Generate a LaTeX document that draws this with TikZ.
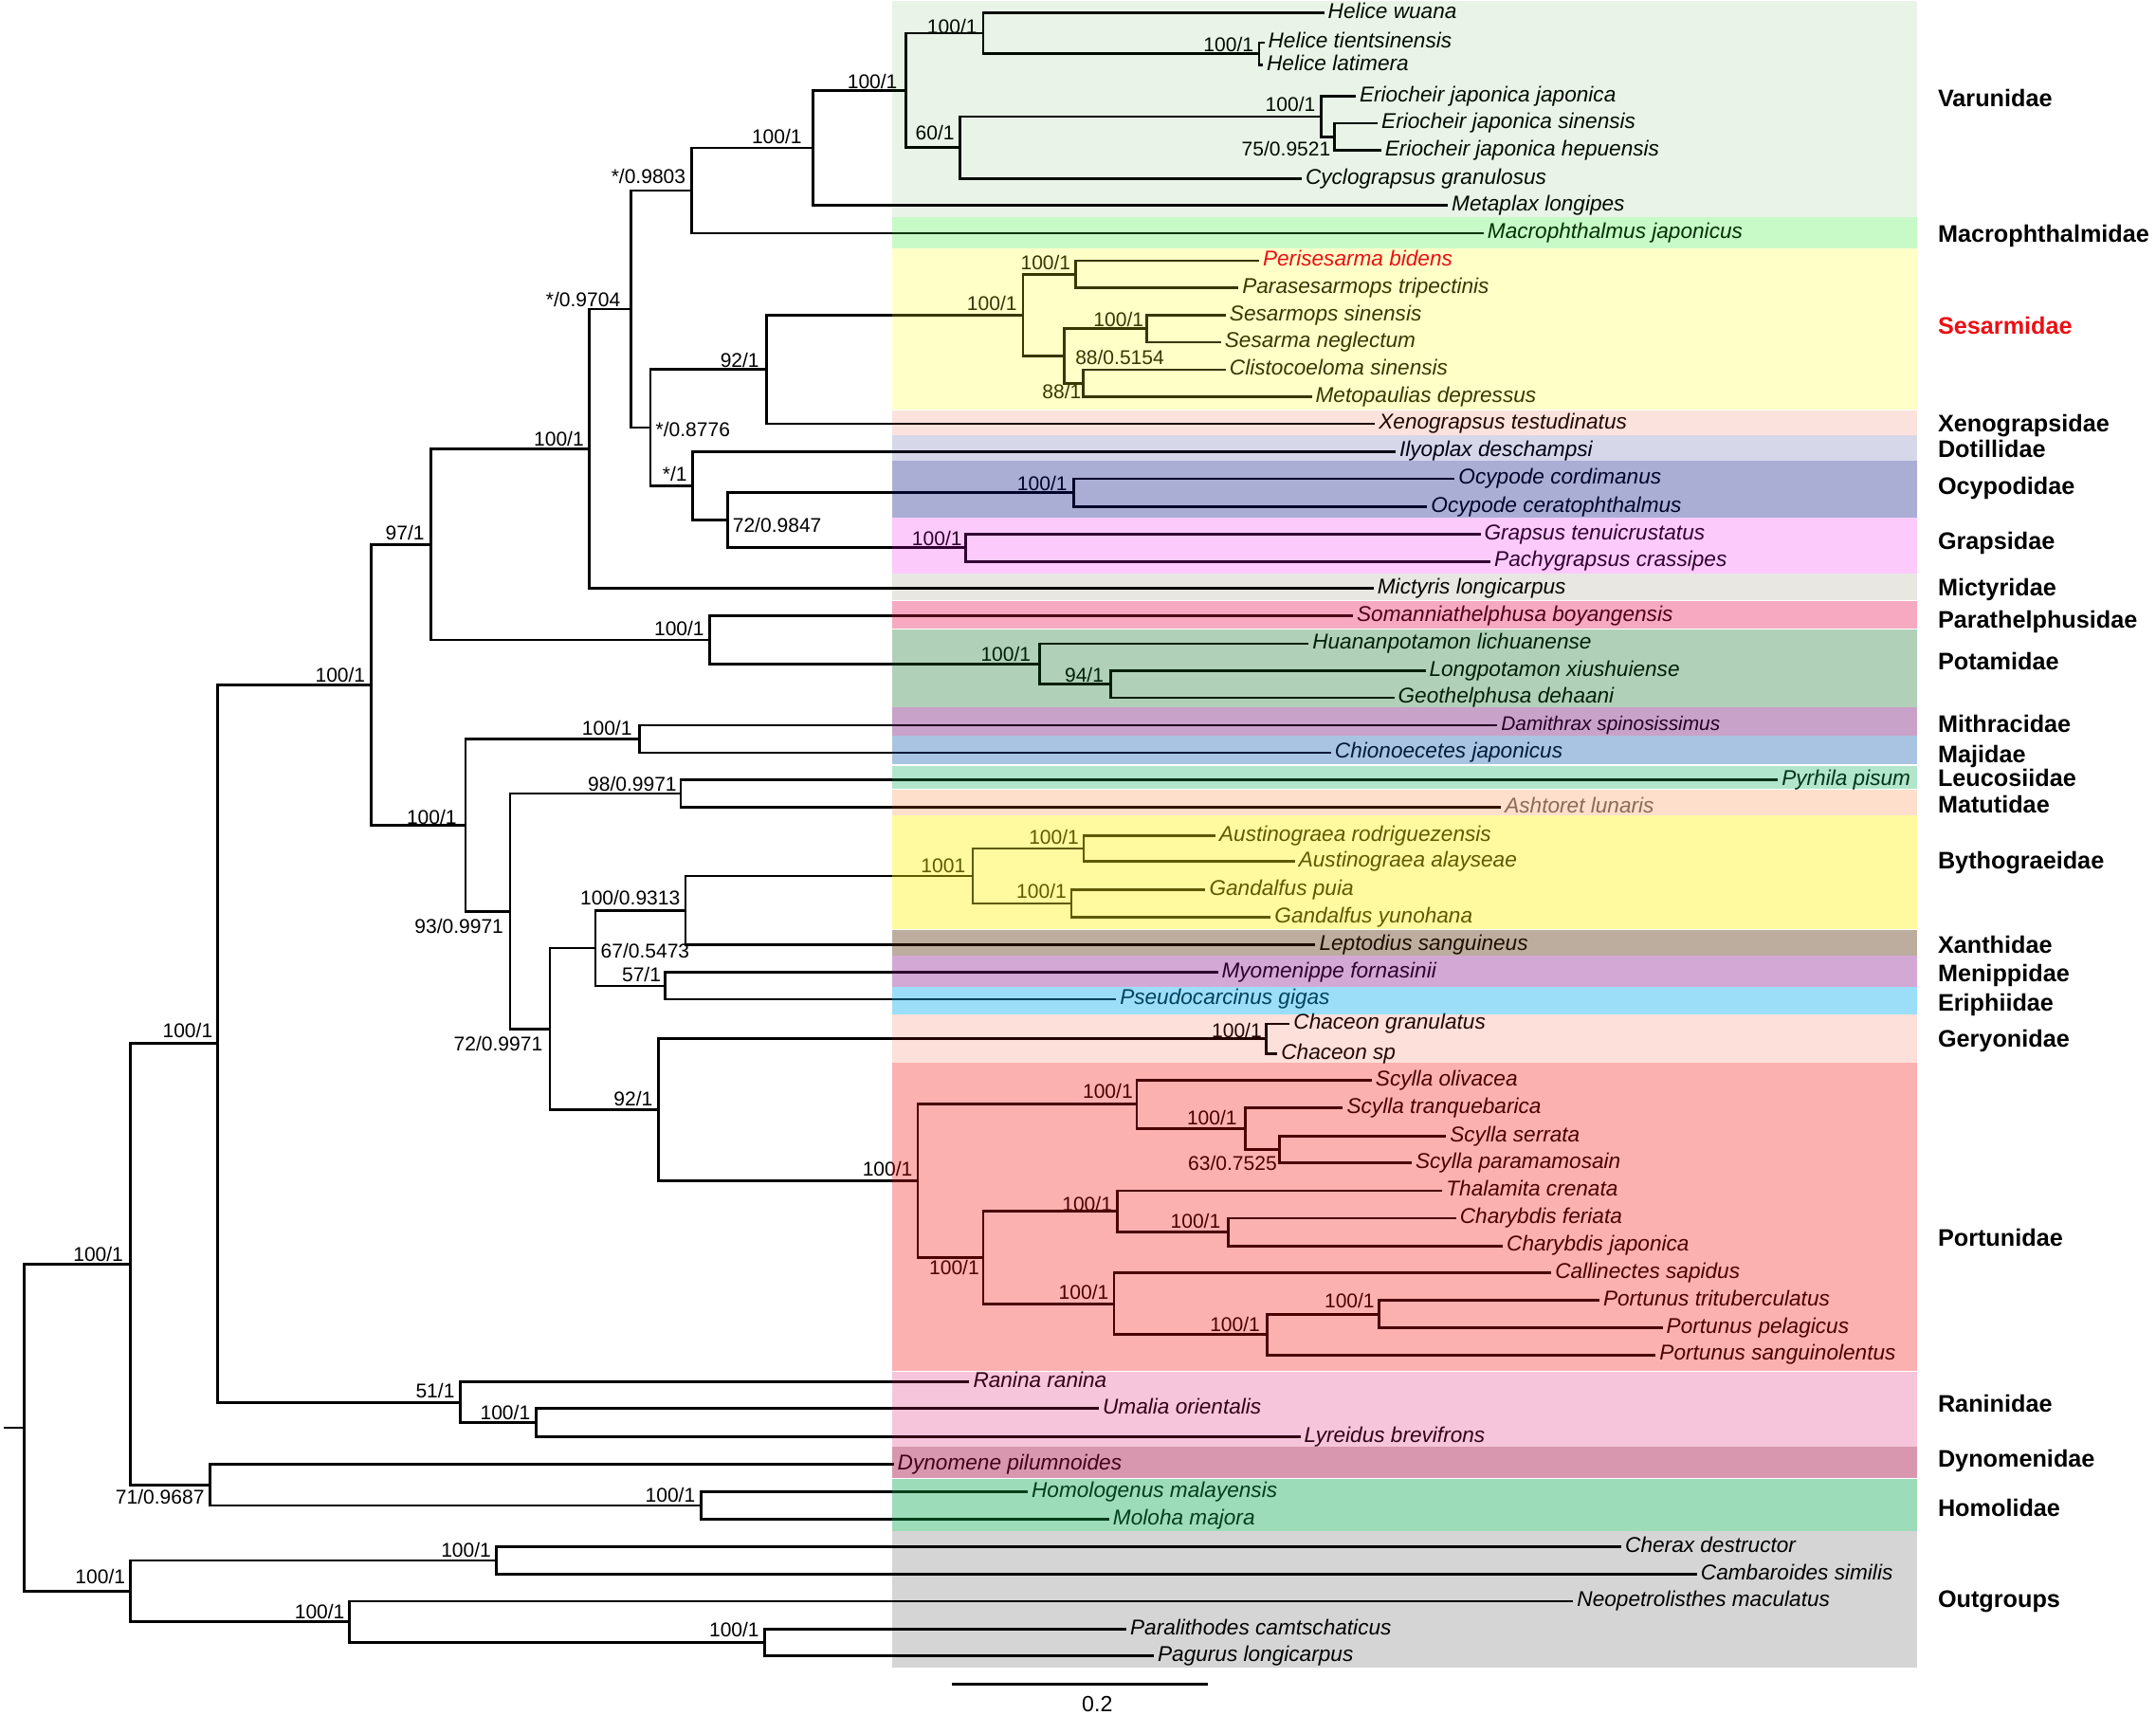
\documentclass[tikz,border=0pt]{standalone}
\usepackage{fontspec}
\setmainfont{Liberation Sans}
\definecolor{cVar}{RGB}{11,122,0}
\definecolor{cMac}{RGB}{0,232,0}
\definecolor{cSes}{RGB}{255,255,0}
\definecolor{cXen}{RGB}{233,44,0}
\definecolor{cDot}{RGB}{0,12,124}
\definecolor{cOcy}{RGB}{0,12,126}
\definecolor{cGra}{RGB}{240,0,240}
\definecolor{cMic}{RGB}{61,44,0}
\definecolor{cPar}{RGB}{228,0,71}
\definecolor{cPot}{RGB}{0,103,26}
\definecolor{cMit}{RGB}{104,0,104}
\definecolor{cMaj}{RGB}{0,82,170}
\definecolor{cLeu}{RGB}{0,172,86}
\definecolor{cMat}{RGB}{245,95,0}
\definecolor{cByt}{RGB}{255,239,0}
\definecolor{cXan}{RGB}{77,37,0}
\definecolor{cMen}{RGB}{129,0,129}
\definecolor{cEri}{RGB}{0,170,237}
\definecolor{cGer}{RGB}{241,41,0}
\definecolor{cPor}{RGB}{245,0,0}
\definecolor{cRan}{RGB}{220,0,97}
\definecolor{cDyn}{RGB}{159,0,59}
\definecolor{cHom}{RGB}{0,164,70}
\definecolor{cOut}{RGB}{0,0,0}
\definecolor{redtxt}{RGB}{235,15,20}
\definecolor{graytxt}{RGB}{110,110,110}
\pgfdeclarelayer{front}
\pgfsetlayers{main,front}
\begin{document}
\begin{tikzpicture}[x=0.5pt,y=-0.5pt,
  br/.style={line width=0.95pt},
  tip/.style={anchor=west,inner xsep=1.2pt,inner ysep=0pt,text height=5.6pt,text depth=1.65pt,font=\fontsize{7.8}{9}\selectfont\itshape},
  smalltip/.style={tip,text height=5.2pt,text depth=1.5pt,font=\fontsize{7.2}{8}\selectfont\itshape},
  bs/.style={inner sep=0pt,text height=5.2pt,text depth=0pt,font=\fontsize{7.25}{8}\selectfont},
  bsl/.style={bs,anchor=east},
  bsr/.style={bs,anchor=west},
  fam/.style={anchor=west,inner sep=0pt,text height=6.25pt,text depth=0pt,font=\fontsize{8.7}{10}\selectfont\bfseries},
]
\useasboundingbox (0,0) rectangle (1568,1247);

% ---------- tips ----------
\node[tip] (t1) at (963,9.2) {Helice wuana};
\node[tip] (t2) at (919.5,31) {Helice tientsinensis};
\node[tip] (t3) at (918.5,47.1) {Helice latimera};
\node[tip] (t4) at (986,70.1) {Eriocheir japonica japonica};
\node[tip] (t5) at (1002,89.6) {Eriocheir japonica sinensis};
\node[tip] (t6) at (1004.5,109.2) {Eriocheir japonica hepuensis};
\node[tip] (t7) at (946.7,129.9) {Cyclograpsus granulosus};
\node[tip] (t8) at (1053,149.4) {Metaplax longipes};
\node[tip] (t9) at (1079,169.6) {Macrophthalmus japonicus};
\begin{pgfonlayer}{front}
\node[tip,text=redtxt] (t10) at (915.7,189.6) {Perisesarma bidens};
\end{pgfonlayer}
\node[tip] (t11) at (900.7,209.2) {Parasesarmops tripectinis};
\node[tip] (t12) at (891.5,229.2) {Sesarmops sinensis};
\node[tip] (t13) at (888,249) {Sesarma neglectum};
\node[tip] (t14) at (891.5,269) {Clistocoeloma sinensis};
\node[tip] (t15) at (954,288.5) {Metopaulias depressus};
\node[tip] (t16) at (1000,308.3) {Xenograpsus testudinatus};
\node[tip] (t17) at (1015,328.4) {Ilyoplax deschampsi};
\node[tip] (t18) at (1058,348.2) {Ocypode cordimanus};
\node[tip] (t19) at (1038,368.5) {Ocypode ceratophthalmus};
\node[tip] (t20) at (1076.7,388.5) {Grapsus tenuicrustatus};
\node[tip] (t21) at (1084,408.3) {Pachygrapsus crassipes};
\node[tip] (t22) at (999,427.9) {Mictyris longicarpus};
\node[tip] (t23) at (984,447.9) {Somanniathelphusa boyangensis};
\node[tip] (t24) at (951.7,468.2) {Huananpotamon lichuanense};
\node[tip] (t25) at (1036.7,487.7) {Longpotamon xiushuiense};
\node[tip] (t26) at (1014,507.5) {Geothelphusa dehaani};
\node[smalltip] (t27) at (1089,527.5) {Damithrax spinosissimus};
\node[tip] (t28) at (968,547.5) {Chionoecetes japonicus};
\node[tip] (t29) at (1293,567.2) {Pyrhila pisum};
\node[tip,text=graytxt] (t30) at (1091.7,587.2) {Ashtoret lunaris};
\node[tip] (t31) at (884,607.9) {Austinograea rodriguezensis};
\node[tip] (t32) at (941.7,626.3) {Austinograea alayseae};
\node[tip] (t33) at (876.7,647) {Gandalfus puia};
\node[tip] (t34) at (924.2,667.3) {Gandalfus yunohana};
\node[tip] (t35) at (956.7,687.3) {Leptodius sanguineus};
\node[tip] (t36) at (885.7,707.3) {Myomenippe fornasinii};
\node[tip] (t37) at (811.7,726.8) {Pseudocarcinus gigas};
\node[tip] (t38) at (938,744.7) {Chaceon granulatus};
\node[tip] (t39) at (929,766.5) {Chaceon sp};
\node[tip] (t40) at (997.7,785.6) {Scylla olivacea};
\node[tip] (t41) at (976.7,805.6) {Scylla tranquebarica};
\node[tip] (t42) at (1051.7,826.3) {Scylla serrata};
\node[tip] (t43) at (1026.7,845.8) {Scylla paramamosain};
\node[tip] (t44) at (1049,866) {Thalamita crenata};
\node[tip] (t45) at (1059,886) {Charybdis feriata};
\node[tip] (t46) at (1093,906.2) {Charybdis japonica};
\node[tip] (t47) at (1128.2,925.8) {Callinectes sapidus};
\node[tip] (t48) at (1163.2,945.8) {Portunus trituberculatus};
\node[tip] (t49) at (1209.2,965.8) {Portunus pelagicus};
\node[tip] (t50) at (1204.2,985.5) {Portunus sanguinolentus};
\node[tip] (t51) at (705,1005.1) {Ranina ranina};
\node[tip] (t52) at (799.2,1024.5) {Umalia orientalis};
\node[tip] (t53) at (945.7,1045.1) {Lyreidus brevifrons};
\node[tip] (t54) at (650,1064.9) {Dynomene pilumnoides};
\node[tip] (t55) at (747.5,1084.9) {Homologenus malayensis};
\node[tip] (t56) at (806.7,1105.1) {Moloha majora};
\node[tip] (t57) at (1179.2,1125.1) {Cherax destructor};
\node[tip] (t58) at (1234.2,1144.8) {Cambaroides similis};
\node[tip] (t59) at (1144.2,1164.6) {Neopetrolisthes maculatus};
\node[tip] (t60) at (819.2,1184.8) {Paralithodes camtschaticus};
\node[tip] (t61) at (839.2,1204.4) {Pagurus longicarpus};

% ---------- internal nodes ----------
\coordinate (nA) at (915.7,39.05);
\coordinate (nB) at (715,24.1);
\coordinate (nC) at (970.7,99.4);
\coordinate (nD) at (960.7,84.75);
\coordinate (nE) at (698,107.3);
\coordinate (nF) at (659,65.7);
\coordinate (nG) at (591.5,107.55);
\coordinate (nH) at (503,138.6);
\coordinate (nI) at (782.5,199.4);
\coordinate (nJ) at (834,239.1);
\coordinate (nK) at (788,278.75);
\coordinate (nL) at (774,258.9);
\coordinate (nM) at (744,229.15);
\coordinate (nN) at (557.5,268.7);
\coordinate (nO) at (780.7,358.35);
\coordinate (nP) at (702.5,398.4);
\coordinate (nQ) at (529,378.4);
\coordinate (nR) at (503.5,353.4);
\coordinate (nS) at (473,311.05);
\coordinate (nT) at (459,224.8);
\coordinate (nU) at (428.5,326.35);
\coordinate (nV) at (807.7,497.6);
\coordinate (nW) at (756,482.9);
\coordinate (nX) at (516,465.4);
\coordinate (nY) at (313.5,395.9);
\coordinate (nZ) at (465,537.5);
\coordinate (nAa) at (495,577.2);
\coordinate (nAb) at (788.2,617.1);
\coordinate (nAc) at (779.2,657.15);
\coordinate (nAd) at (707.5,637.1);
\coordinate (nAe) at (498.5,662.2);
\coordinate (nAf) at (483.5,717.05);
\coordinate (nAg) at (433,689.6);
\coordinate (nAh) at (920.7,755.6);
\coordinate (nAi) at (930.7,836.05);
\coordinate (nAj) at (905.7,820.8);
\coordinate (nAk) at (826.7,803.2);
\coordinate (nAl) at (893.2,896.1);
\coordinate (nAm) at (812.7,881.05);
\coordinate (nAn) at (1002.7,955.8);
\coordinate (nAo) at (921.7,970.65);
\coordinate (nAp) at (810.2,948.2);
\coordinate (nAq) at (715,914.6);
\coordinate (nAr) at (667.5,858.9);
\coordinate (nAs) at (479,807.25);
\coordinate (nAt) at (400,748.4);
\coordinate (nAu) at (371,662.8);
\coordinate (nAv) at (338.5,600.15);
\coordinate (nAw) at (270,498.0);
\coordinate (nAx) at (390,1034.8);
\coordinate (nAy) at (335,1019.95);
\coordinate (nAz) at (158.5,759.0);
\coordinate (nBa) at (510,1095);
\coordinate (nBb) at (152.5,1079.95);
\coordinate (nBc) at (95,919.5);
\coordinate (nBd) at (361,1134.95);
\coordinate (nBe) at (556,1194.6);
\coordinate (nBf) at (254,1179.6);
\coordinate (nBg) at (95,1157.3);
\coordinate (root) at (17.5,1038.4);
\coordinate (stub) at (2.5,1038.4);

% ---------- branches ----------
\draw[br] (nA) |- (t2.west); \draw[br] (nA) |- (t3.west);
\draw[br] (nB) |- (t1.west); \draw[br] (nB) |- (nA);
\draw[br] (nC) |- (t5.west); \draw[br] (nC) |- (t6.west);
\draw[br] (nD) |- (t4.west); \draw[br] (nD) |- (nC);
\draw[br] (nE) |- (nD); \draw[br] (nE) |- (t7.west);
\draw[br] (nF) |- (nB); \draw[br] (nF) |- (nE);
\draw[br] (nG) |- (nF); \draw[br] (nG) |- (t8.west);
\draw[br] (nH) |- (nG); \draw[br] (nH) |- (t9.west);
\draw[br] (nI) |- (t10.west); \draw[br] (nI) |- (t11.west);
\draw[br] (nJ) |- (t12.west); \draw[br] (nJ) |- (t13.west);
\draw[br] (nK) |- (t14.west); \draw[br] (nK) |- (t15.west);
\draw[br] (nL) |- (nJ); \draw[br] (nL) |- (nK);
\draw[br] (nM) |- (nI); \draw[br] (nM) |- (nL);
\draw[br] (nN) |- (nM); \draw[br] (nN) |- (t16.west);
\draw[br] (nO) |- (t18.west); \draw[br] (nO) |- (t19.west);
\draw[br] (nP) |- (t20.west); \draw[br] (nP) |- (t21.west);
\draw[br] (nQ) |- (nO); \draw[br] (nQ) |- (nP);
\draw[br] (nR) |- (t17.west); \draw[br] (nR) |- (nQ);
\draw[br] (nS) |- (nN); \draw[br] (nS) |- (nR);
\draw[br] (nT) |- (nH); \draw[br] (nT) |- (nS);
\draw[br] (nU) |- (nT); \draw[br] (nU) |- (t22.west);
\draw[br] (nV) |- (t25.west); \draw[br] (nV) |- (t26.west);
\draw[br] (nW) |- (t24.west); \draw[br] (nW) |- (nV);
\draw[br] (nX) |- (t23.west); \draw[br] (nX) |- (nW);
\draw[br] (nY) |- (nU); \draw[br] (nY) |- (nX);
\draw[br] (nZ) |- (t27.west); \draw[br] (nZ) |- (t28.west);
\draw[br] (nAa) |- (t29.west); \draw[br] (nAa) |- (t30.west);
\draw[br] (nAb) |- (t31.west); \draw[br] (nAb) |- (t32.west);
\draw[br] (nAc) |- (t33.west); \draw[br] (nAc) |- (t34.west);
\draw[br] (nAd) |- (nAb); \draw[br] (nAd) |- (nAc);
\draw[br] (nAe) |- (nAd); \draw[br] (nAe) |- (t35.west);
\draw[br] (nAf) |- (t36.west); \draw[br] (nAf) |- (t37.west);
\draw[br] (nAg) |- (nAe); \draw[br] (nAg) |- (nAf);
\draw[br] (nAh) |- (t38.west); \draw[br] (nAh) |- (t39.west);
\draw[br] (nAi) |- (t42.west); \draw[br] (nAi) |- (t43.west);
\draw[br] (nAj) |- (t41.west); \draw[br] (nAj) |- (nAi);
\draw[br] (nAk) |- (t40.west); \draw[br] (nAk) |- (nAj);
\draw[br] (nAl) |- (t45.west); \draw[br] (nAl) |- (t46.west);
\draw[br] (nAm) |- (t44.west); \draw[br] (nAm) |- (nAl);
\draw[br] (nAn) |- (t48.west); \draw[br] (nAn) |- (t49.west);
\draw[br] (nAo) |- (nAn); \draw[br] (nAo) |- (t50.west);
\draw[br] (nAp) |- (t47.west); \draw[br] (nAp) |- (nAo);
\draw[br] (nAq) |- (nAm); \draw[br] (nAq) |- (nAp);
\draw[br] (nAr) |- (nAk); \draw[br] (nAr) |- (nAq);
\draw[br] (nAs) |- (nAh); \draw[br] (nAs) |- (nAr);
\draw[br] (nAt) |- (nAg); \draw[br] (nAt) |- (nAs);
\draw[br] (nAu) |- (nAa); \draw[br] (nAu) |- (nAt);
\draw[br] (nAv) |- (nZ); \draw[br] (nAv) |- (nAu);
\draw[br] (nAw) |- (nY); \draw[br] (nAw) |- (nAv);
\draw[br] (nAx) |- (t52.west); \draw[br] (nAx) |- (t53.west);
\draw[br] (nAy) |- (t51.west); \draw[br] (nAy) |- (nAx);
\draw[br] (nAz) |- (nAw); \draw[br] (nAz) |- (nAy);
\draw[br] (nBa) |- (t55.west); \draw[br] (nBa) |- (t56.west);
\draw[br] (nBb) |- (t54.west); \draw[br] (nBb) |- (nBa);
\draw[br] (nBc) |- (nAz); \draw[br] (nBc) |- (nBb);
\draw[br] (nBd) |- (t57.west); \draw[br] (nBd) |- (t58.west);
\draw[br] (nBe) |- (t60.west); \draw[br] (nBe) |- (t61.west);
\draw[br] (nBf) |- (t59.west); \draw[br] (nBf) |- (nBe);
\draw[br] (nBg) |- (nBd); \draw[br] (nBg) |- (nBf);
\draw[br] (root) |- (nBc); \draw[br] (root) |- (nBg);
\draw[br] (stub) -- (root);

% ---------- support labels ----------
\node[bsl] (L1) at (711,19.5) {100/1};
\node[bsl] (L2) at (912,32.2) {100/1};
\node[bsl] (L3) at (653,59.3) {100/1};
\node[bsl] (L4) at (694.5,96.5) {60/1};
\node[bsl] (L5) at (583.5,99.3) {100/1};
\node[bsl] (L6) at (499,128.2) {*/0.9803};
\node[bsl] (L7) at (957,75.8) {100/1};
\node[bsl] (L8) at (968,108) {75/0.9521};
\node[bsl] (L9) at (451.5,217.7) {*/0.9704};
\node[bsl] (L10) at (552.5,262) {92/1};
\node[bsl] (L11) at (425,319.5) {100/1};
\node[bsr] (L12) at (476.5,312.6) {*/0.8776};
\node[bsl] (L13) at (500,344.8) {*/1};
\node[bsr] (L14) at (532.5,382) {72/0.9847};
\node[bsl] (L15) at (309,387.3) {97/1};
\node[bsl] (L16) at (740,220.7) {100/1};
\node[bsl] (L17) at (779,191.2) {100/1};
\node[bsl] (L18) at (832,232.6) {100/1};
\node[bsr] (L19) at (781.7,259.8) {88/0.5154};
\node[bsl] (L20) at (786.7,285) {88/1};
\node[bsl] (L21) at (776.5,351.7) {100/1};
\node[bsl] (L22) at (700,391.5) {100/1};
\node[bsl] (L23) at (512.5,457.4) {100/1};
\node[bsl] (L24) at (750,475.8) {100/1};
\node[bsl] (L25) at (803,491) {94/1};
\node[bsl] (L26) at (266,490.7) {100/1};
\node[bsl] (L27) at (332.5,594.1) {100/1};
\node[bsl] (L28) at (460,529.8) {100/1};
\node[bsl] (L29) at (492.5,570) {98/0.9971};
\node[bsl] (L30) at (366.5,673.9) {93/0.9971};
\node[bsl] (L31) at (395,759.2) {72/0.9971};
\node[bsr] (L32) at (436.5,691.9) {67/0.5473};
\node[bsl] (L33) at (495,652.8) {100/0.9313};
\node[bsl] (L34) at (702.5,629.8) {1001};
\node[bsl] (L35) at (785,609) {100/1};
\node[bsl] (L36) at (776,648) {100/1};
\node[bsl] (L37) at (481,709.1) {57/1};
\node[bsl] (L38) at (475,799.4) {92/1};
\node[bsl] (L39) at (918,749.3) {100/1};
\node[bsl] (L40) at (664,850.4) {100/1};
\node[bsl] (L41) at (824.2,793.4) {100/1};
\node[bsl] (L42) at (900,813.2) {100/1};
\node[bsl] (L43) at (929,845.8) {63/0.7525};
\node[bsl] (L44) at (712.5,921.6) {100/1};
\node[bsl] (L45) at (809.2,875.7) {100/1};
\node[bsl] (L46) at (888,888.3) {100/1};
\node[bsl] (L47) at (806.7,940) {100/1};
\node[bsl] (L48) at (916.7,963) {100/1};
\node[bsl] (L49) at (1000,946.2) {100/1};
\node[bsl] (L50) at (155,749.3) {100/1};
\node[bsl] (L51) at (331,1011.3) {51/1};
\node[bsl] (L52) at (386,1027.4) {100/1};
\node[bsl] (L53) at (90,912.4) {100/1};
\node[bsl] (L54) at (149,1088.8) {71/0.9687};
\node[bsl] (L55) at (506,1087.6) {100/1};
\node[bsl] (L56) at (91.5,1146.9) {100/1};
\node[bsl] (L57) at (357.5,1127.4) {100/1};
\node[bsl] (L58) at (251,1172.2) {100/1};
\node[bsl] (L59) at (552.5,1185.5) {100/1};

% ---------- family bands (translucent, drawn over the tree) ----------
\fill[cVar,fill opacity=0.09] (649,1) rectangle (1394,158);
\fill[cMac,fill opacity=0.216] (649,158) rectangle (1394,180.5);
\fill[cSes,fill opacity=0.216] (649,180.5) rectangle (1394,297.6);
\fill[cXen,fill opacity=0.137] (649,298.5) rectangle (1394,316.3);
\fill[cDot,fill opacity=0.161] (649,316.8) rectangle (1394,335);
\fill[cOcy,fill opacity=0.333] (649,335) rectangle (1394,376.5);
\fill[cGra,fill opacity=0.204] (649,376.5) rectangle (1394,417.5);
\fill[cMic,fill opacity=0.114] (649,417.5) rectangle (1394,436.7);
\fill[cPar,fill opacity=0.337] (649,437.2) rectangle (1394,457.5);
\fill[cPot,fill opacity=0.31] (649,457.8) rectangle (1394,514.3);
\fill[cMit,fill opacity=0.365] (649,514.6) rectangle (1394,534.8);
\fill[cMaj,fill opacity=0.341] (649,535) rectangle (1394,556);
\fill[cLeu,fill opacity=0.302] (649,557) rectangle (1394,574);
\fill[cMat,fill opacity=0.2] (649,574.4) rectangle (1394,592.8);
\fill[cByt,fill opacity=0.373] (649,593) rectangle (1394,676);
\fill[cXan,fill opacity=0.376] (649,676.5) rectangle (1394,695.3);
\fill[cMen,fill opacity=0.341] (649,695.3) rectangle (1394,717.8);
\fill[cEri,fill opacity=0.388] (649,718) rectangle (1394,737.6);
\fill[cGer,fill opacity=0.145] (649,738) rectangle (1394,773);
\fill[cPor,fill opacity=0.306] (649,773.3) rectangle (1394,997.3);
\fill[cRan,fill opacity=0.227] (649,997.5) rectangle (1394,1052);
\fill[cDyn,fill opacity=0.408] (649,1052.4) rectangle (1394,1075.2);
\fill[cHom,fill opacity=0.384] (649,1075.5) rectangle (1394,1113.5);
\fill[cOut,fill opacity=0.165] (649,1113.6) rectangle (1394,1213.1);

% ---------- family names ----------
\node[fam] (f1) at (1409,71.2) {Varunidae};
\node[fam] (f2) at (1409,170) {Macrophthalmidae};
\node[fam,text=redtxt] (f3) at (1409,236.8) {Sesarmidae};
\node[fam] (f4) at (1409,308) {Xenograpsidae};
\node[fam] (f5) at (1409,326.4) {Dotillidae};
\node[fam] (f6) at (1409,353.3) {Ocypodidae};
\node[fam] (f7) at (1409,393.5) {Grapsidae};
\node[fam] (f8) at (1409,426.8) {Mictyridae};
\node[fam] (f9) at (1409,450.5) {Parathelphusidae};
\node[fam] (f10) at (1409,480.8) {Potamidae};
\node[fam] (f11) at (1409,526.3) {Mithracidae};
\node[fam] (f12) at (1409,548.2) {Majidae};
\node[fam] (f13) at (1409,565.4) {Leucosiidae};
\node[fam] (f14) at (1409,585) {Matutidae};
\node[fam] (f15) at (1409,625.7) {Bythograeidae};
\node[fam] (f16) at (1409,687.2) {Xanthidae};
\node[fam] (f17) at (1409,708) {Menippidae};
\node[fam] (f18) at (1409,729.1) {Eriphiidae};
\node[fam] (f19) at (1409,755.1) {Geryonidae};
\node[fam] (f20) at (1409,899.8) {Portunidae};
\node[fam] (f21) at (1409,1020.5) {Raninidae};
\node[fam] (f22) at (1409,1060.7) {Dynomenidae};
\node[fam] (f23) at (1409,1096.8) {Homolidae};
\node[fam] (f24) at (1409,1163) {Outgroups};

% ---------- scale bar ----------
\coordinate (sb1) at (692.5,1225);
\coordinate (sb2) at (878.2,1225);
\draw[br] (sb1) -- (sb2);
\node[inner sep=0pt,text height=5.8pt,text depth=0pt,font=\fontsize{8}{9}\selectfont] (sbl) at (798,1239) {0.2};
\end{tikzpicture}
\end{document}
